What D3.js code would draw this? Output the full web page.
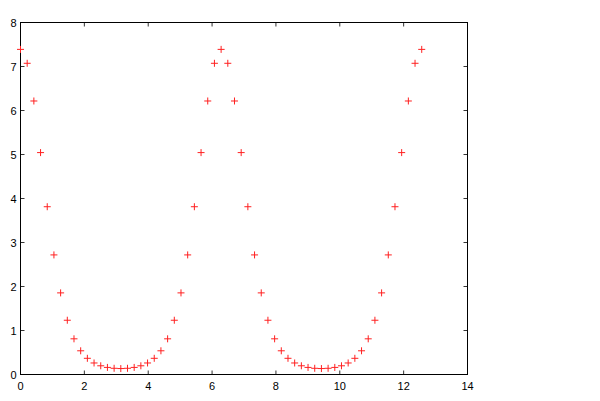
<!DOCTYPE html>
<html><head><meta charset="utf-8">
<script src="https://cdn.jsdelivr.net/npm/d3@7"></script>
<style>body{margin:0;background:#fff}svg{display:block}</style>
</head><body>
<script>
const xValues = [0,0.2094,0.4189,0.6283,0.8378,1.0472,1.2566,1.4661,1.6755,1.8850,2.0944,2.3038,2.5133,2.7227,2.9322,3.1416,3.3510,3.5605,3.7699,3.9794,4.1888,4.3982,4.6077,4.8171,5.0265,5.2360,5.4454,5.6549,5.8643,6.0737,6.2832,6.4926,6.7021,6.9115,7.1209,7.3304,7.5398,7.7493,7.9587,8.1681,8.3776,8.5870,8.7965,9.0059,9.2153,9.4248,9.6342,9.8437,10.0531,10.2625,10.4720,10.6814,10.8909,11.1003,11.3097,11.5192,11.7286,11.9381,12.1475,12.3569,12.5664];
const yValues = [7.389,7.073,6.216,5.043,3.813,2.718,1.855,1.233,0.811,0.539,0.368,0.262,0.198,0.161,0.141,0.135,
 0.141,0.161,0.198,0.262,0.368,0.539,0.811,1.233,1.855,2.718,3.813,5.043,6.216,7.073,7.389,
 7.073,6.216,5.043,3.813,2.718,1.855,1.233,0.811,0.539,0.368,0.262,0.198,0.161,0.141,0.135,
 0.141,0.161,0.198,0.262,0.368,0.539,0.811,1.233,1.855,2.718,3.813,5.043,6.216,7.073,7.389];
const xTicks = [0,2,4,6,8,10,12,14];
const yTicks = [0,1,2,3,4,5,6,7,8];

const W = 600, H = 401;
const pLeft = 20.5, pRight = 467.5, pTop = 22.5, pBottom = 374.5;
const svg = d3.select("body").append("svg").attr("width", W).attr("height", H);
const x = d3.scaleLinear().domain([0,14]).range([pLeft,pRight]);
const y = d3.scaleLinear().domain([0,8]).range([pBottom,pTop]);
const font = "'Liberation Sans', Arial, sans-serif";
const tickLen = 4;

// ticks (inward, mirrored)
const tg = svg.append("g").attr("stroke","#333").attr("stroke-width",1);
xTicks.forEach(t => {
  tg.append("line").attr("x1",x(t)).attr("x2",x(t)).attr("y1",pBottom).attr("y2",pBottom-tickLen);
  tg.append("line").attr("x1",x(t)).attr("x2",x(t)).attr("y1",pTop).attr("y2",pTop+tickLen);
});
yTicks.forEach(t => {
  tg.append("line").attr("y1",y(t)).attr("y2",y(t)).attr("x1",pLeft).attr("x2",pLeft+tickLen);
  tg.append("line").attr("y1",y(t)).attr("y2",y(t)).attr("x1",pRight).attr("x2",pRight-tickLen);
});
// frame
svg.append("rect").attr("x",pLeft).attr("y",pTop).attr("width",pRight-pLeft).attr("height",pBottom-pTop)
  .attr("fill","none").attr("stroke","#000").attr("stroke-width",1);

// labels
svg.append("g").selectAll("text").data(xTicks).join("text")
  .attr("x",d=>x(d)).attr("y",pBottom+15).attr("text-anchor","middle")
  .attr("font-family",font).attr("font-size",11).attr("fill","#000").text(d=>d);
svg.append("g").selectAll("text").data(yTicks).join("text")
  .attr("x",pLeft-4).attr("y",d=>y(d)+4).attr("text-anchor","end")
  .attr("font-family",font).attr("font-size",11).attr("fill","#000").text(d=>d);

// markers
const pts = xValues.map((v,i)=>[v,yValues[i]]);
const s = 3.5;
svg.append("g").attr("stroke","#ff2020").attr("stroke-width",1).selectAll("path").data(pts).join("path")
  .attr("d", d => `M${x(d[0])-s},${y(d[1])}H${x(d[0])+s}M${x(d[0])},${y(d[1])-s}V${y(d[1])+s}`);
</script>
</body></html>
